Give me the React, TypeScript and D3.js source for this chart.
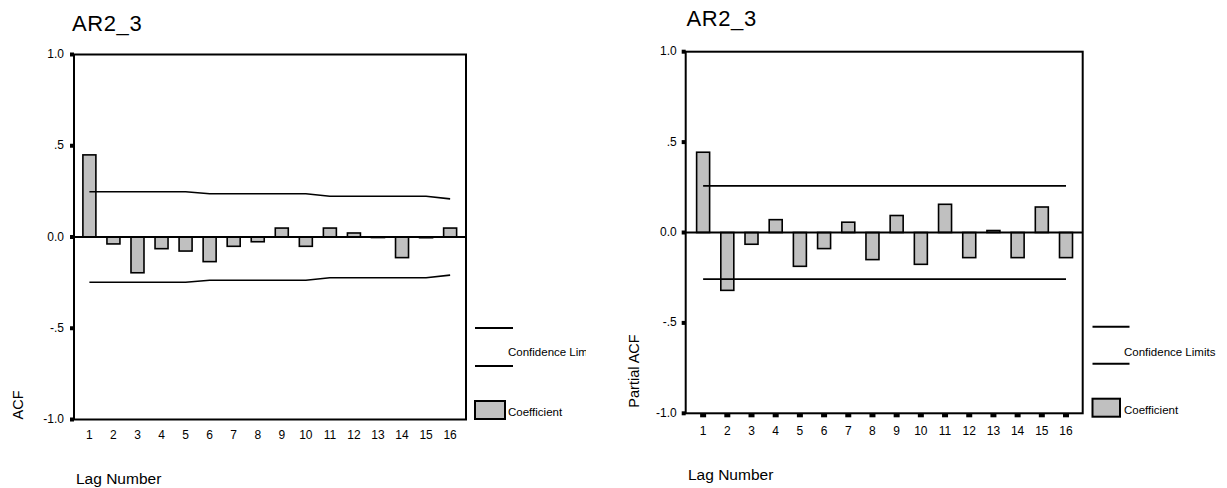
import React from "react";
import * as d3 from "d3";

// ---------- data ----------
const lags = [1, 2, 3, 4, 5, 6, 7, 8, 9, 10, 11, 12, 13, 14, 15, 16];
const acfValues = [0.45, -0.038, -0.196, -0.064, -0.077, -0.135, -0.051, -0.026, 0.049, -0.051, 0.049, 0.022, -0.003, -0.113, -0.004, 0.049];
const acfConfidence = [0.248, 0.248, 0.248, 0.248, 0.248, 0.237, 0.237, 0.237, 0.237, 0.237, 0.223, 0.223, 0.223, 0.223, 0.223, 0.209];
const pacfValues = [0.444, -0.32, -0.065, 0.071, -0.187, -0.089, 0.057, -0.15, 0.094, -0.176, 0.156, -0.139, 0.011, -0.139, 0.141, -0.139];
const pacfConfidence = [0.258, 0.258, 0.258, 0.258, 0.258, 0.258, 0.258, 0.258, 0.258, 0.258, 0.258, 0.258, 0.258, 0.258, 0.258, 0.258];
const yTicks = [1, 0.5, 0, -0.5, -1];
const yTickLabels = ["1.0", ".5", "0.0", "-.5", "-1.0"];
const seriesTitle = "AR2_3";
const xAxisTitle = "Lag Number";
const legendConfidence = "Confidence Limits";
const legendCoefficient = "Coefficient";

const FONT = "'Liberation Sans', Arial, sans-serif";

type PanelProps = {
  id: string;
  left: number;
  right: number;
  top: number;
  bottom: number;
  xDomain: [number, number];
  values: number[];
  conf: number[];
  yLabel: string;
  yLabelPos: [number, number];
  titlePos: [number, number];
  xTitlePos: [number, number];
  xTickBaseline: number;
  yLabelOffset: number;
  showXTicks: boolean;
  legendX: number;
  legendLineY: [number, number];
  legendTextY: number;
  legendRectY: [number, number];
  legendRectW: number;
  legendLineW: number;
  legendTextX: number;
  legendCoefY: number;
  clipRight?: number;
};

function Panel(p: PanelProps) {
  const x = d3.scaleLinear().domain(p.xDomain).range([p.left, p.right]);
  const y = d3.scaleLinear().domain([-1, 1]).range([p.bottom, p.top]);
  const barW = 13;
  const line = d3
    .line<number>()
    .x((_, i) => x(lags[i]))
    .y((d) => y(d));
  const upper = line(p.conf) || "";
  const lower = line(p.conf.map((c) => -c)) || "";
  const clipId = `clip-${p.id}`;
  return (
    <g fontFamily={FONT} fill="#000">
      {p.clipRight !== undefined && (
        <defs>
          <clipPath id={clipId}>
            <rect x={0} y={0} width={p.clipRight} height={488} />
          </clipPath>
        </defs>
      )}
      <text x={p.titlePos[0]} y={p.titlePos[1]} fontSize={22} letterSpacing={0.6}>
        {seriesTitle}
      </text>
      {/* bars */}
      {lags.map((lag, i) => {
        const v = p.values[i];
        const y0 = y(0);
        const yv = y(v);
        return (
          <rect
            key={lag}
            x={x(lag) - barW / 2}
            y={Math.min(y0, yv)}
            width={barW}
            height={Math.max(Math.abs(yv - y0), 0.5)}
            fill="#c0c0c0"
            stroke="#000"
            strokeWidth={1.6}
          />
        );
      })}
      {/* confidence limits */}
      <path d={upper} fill="none" stroke="#000" strokeWidth={1.6} />
      <path d={lower} fill="none" stroke="#000" strokeWidth={1.6} />
      {/* zero line */}
      <line x1={p.left} x2={p.right} y1={y(0)} y2={y(0)} stroke="#000" strokeWidth={2} />
      {/* frame */}
      <rect
        x={p.left}
        y={p.top}
        width={p.right - p.left}
        height={p.bottom - p.top}
        fill="none"
        stroke="#000"
        strokeWidth={2}
      />
      {/* y ticks */}
      {yTicks.map((t, i) => (
        <g key={t}>
          <rect x={p.left - 4} y={y(t) - 2} width={4} height={4} fill="#000" />
          <text
            x={p.left - p.yLabelOffset}
            y={y(t) + 3.5}
            fontSize={12}
            textAnchor="end"
          >
            {yTickLabels[i]}
          </text>
        </g>
      ))}
      {/* x ticks */}
      {lags.map((lag) => (
        <g key={`xt${lag}`}>
          {p.showXTicks && (
            <rect x={x(lag) - 3} y={p.bottom} width={6} height={4} fill="#000" />
          )}
          <text x={x(lag)} y={p.xTickBaseline} fontSize={12} textAnchor="middle">
            {lag}
          </text>
        </g>
      ))}
      {/* axis titles */}
      <text
        x={p.yLabelPos[0]}
        y={p.yLabelPos[1]}
        fontSize={14.5}
        textAnchor="middle"
        dominantBaseline="central"
        transform={`rotate(-90, ${p.yLabelPos[0]}, ${p.yLabelPos[1]})`}
      >
        {p.yLabel}
      </text>
      <text x={p.xTitlePos[0]} y={p.xTitlePos[1]} fontSize={15.5}>
        {xAxisTitle}
      </text>
      {/* legend */}
      <line
        x1={p.legendX}
        x2={p.legendX + p.legendLineW}
        y1={p.legendLineY[0]}
        y2={p.legendLineY[0]}
        stroke="#000"
        strokeWidth={2}
      />
      <line
        x1={p.legendX}
        x2={p.legendX + p.legendLineW}
        y1={p.legendLineY[1]}
        y2={p.legendLineY[1]}
        stroke="#000"
        strokeWidth={2}
      />
      <text
        x={p.legendTextX}
        y={p.legendTextY}
        fontSize={11.5}
        clipPath={p.clipRight !== undefined ? `url(#${clipId})` : undefined}
      >
        {legendConfidence}
      </text>
      <rect
        x={p.legendX}
        y={p.legendRectY[0]}
        width={p.legendRectW}
        height={p.legendRectY[1] - p.legendRectY[0]}
        fill="#c0c0c0"
        stroke="#000"
        strokeWidth={2}
      />
      <text x={p.legendTextX} y={p.legendCoefY} fontSize={11.5}>
        {legendCoefficient}
      </text>
    </g>
  );
}

export default function App() {
  return (
    <svg
      width={1227}
      height={488}
      viewBox="0 0 1227 488"
      style={{ position: "absolute", left: 0, top: 0, background: "#fff" }}
    >
      <rect x={0} y={0} width={1227} height={488} fill="#fff" />
      <Panel
        id="acf"
        left={74}
        right={466}
        top={54.5}
        bottom={419.5}
        xDomain={[0.36, 16.66]}
        values={acfValues}
        conf={acfConfidence}
        yLabel="ACF"
        yLabelPos={[17.5, 405]}
        titlePos={[72, 31]}
        xTitlePos={[76, 484]}
        xTickBaseline={439}
        yLabelOffset={10}
        showXTicks={false}
        legendX={475}
        legendLineW={38}
        legendLineY={[328, 366]}
        legendTextX={508}
        legendTextY={356}
        legendRectY={[401, 419]}
        legendRectW={30}
        legendCoefY={416}
        clipRight={586}
      />
      <Panel
        id="pacf"
        left={685.7}
        right={1082.7}
        top={51.7}
        bottom={413.3}
        xDomain={[0.28, 16.69]}
        values={pacfValues}
        conf={pacfConfidence}
        yLabel="Partial ACF"
        yLabelPos={[634, 371]}
        titlePos={[686.5, 26]}
        xTitlePos={[688, 480]}
        xTickBaseline={434.5}
        yLabelOffset={9}
        showXTicks={true}
        legendX={1092.5}
        legendLineW={37}
        legendLineY={[326.7, 363.7]}
        legendTextX={1124}
        legendTextY={356}
        legendRectY={[398.7, 416.7]}
        legendRectW={27.5}
        legendCoefY={414}
      />
    </svg>
  );
}
